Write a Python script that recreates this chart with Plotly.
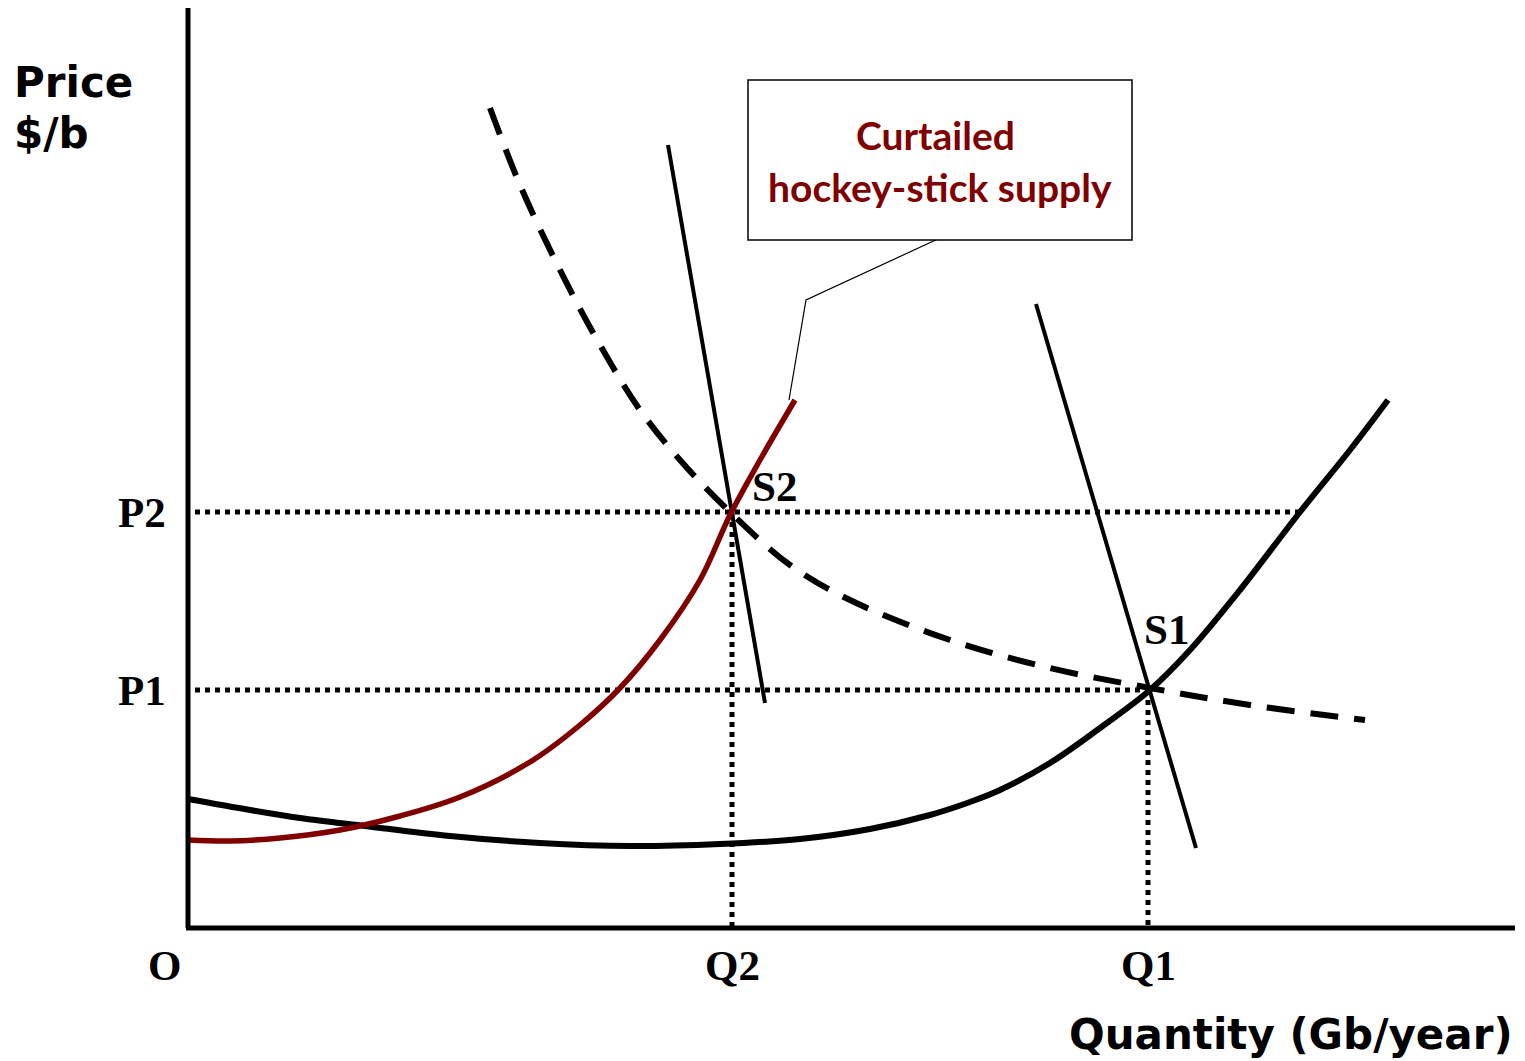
import plotly.graph_objects as go

# Diagram units: quantity on x, price on y (origin at the axes corner)
axis_top = 92.0
axis_right = 132.7

# Original (hockey-stick) supply curve
supply_q = [0, 6.2, 11.2, 17.7, 26.2, 35.2, 44.2, 53.2, 61.2, 68.2, 74.2, 78.2, 81.2,
            86.2, 91.2, 96.2, 100.2, 105.2, 111.2, 116.2, 120.0]
supply_p = [12.9, 11.8, 11.0, 10.2, 9.2, 8.5, 8.2, 8.4, 8.9, 9.9, 11.3, 12.6, 13.8,
            16.5, 20.0, 23.8, 27.8, 33.8, 41.6, 47.8, 52.8]

# Curtailed hockey-stick supply
curtailed_q = [0, 4.2, 9.2, 15.2, 21.2, 27.2, 34.2, 39.2, 43.2, 47.2, 51.2, 54.2, 57.2, 60.7]
curtailed_p = [8.8, 8.7, 9.0, 9.8, 11.2, 13.1, 16.6, 20.3, 24.0, 28.8, 34.8, 41.3, 46.8, 52.8]

# Dashed curve
dashed_q = [30.2, 33.2, 37.2, 41.2, 45.2, 49.2, 54.2, 60.2, 66.2, 76.2, 86.2, 96.2, 106.2, 117.7]
dashed_p = [82.0, 74.3, 65.8, 58.3, 51.8, 46.8, 41.6, 36.3, 32.8, 28.8, 26.0, 24.0, 22.3, 20.8]

# Steep demand lines
s2_q = [48.0, 57.7]
s2_p = [78.3, 22.5]
s1_q = [84.8, 100.8]
s1_p = [62.4, 8.0]

# Equilibria
P1, P2 = 23.8, 41.6
Q1, Q2 = 96.0, 54.4
p2_line_end = 111.7

# Callout box and leader
box_q = [56.0, 94.4]
box_p = [68.8, 84.8]
leader_q = [75.2, 61.8, 60.1]
leader_p = [69.0, 62.8, 52.8]

BLACK = "#000000"
RED = "#800000"

fig = go.Figure()

# dotted guide lines
dot = "5px,5px"
guide = dict(color=BLACK, width=5, dash=dot)
fig.add_trace(go.Scatter(x=[0.7, p2_line_end], y=[P2, P2], mode="lines", line=guide))
fig.add_trace(go.Scatter(x=[0.7, Q1], y=[P1, P1], mode="lines", line=guide))
fig.add_trace(go.Scatter(x=[Q2, Q2], y=[P2, 0], mode="lines", line=guide))
fig.add_trace(go.Scatter(x=[Q1, Q1], y=[P1, 0], mode="lines", line=guide))

# curves
fig.add_trace(go.Scatter(x=dashed_q, y=dashed_p, mode="lines", line_shape="spline",
                         line=dict(color=BLACK, width=6, dash="28px,16px")))
fig.add_trace(go.Scatter(x=s2_q, y=s2_p, mode="lines", line=dict(color=BLACK, width=4)))
fig.add_trace(go.Scatter(x=s1_q, y=s1_p, mode="lines", line=dict(color=BLACK, width=4)))
fig.add_trace(go.Scatter(x=supply_q, y=supply_p, mode="lines", line_shape="spline",
                         line=dict(color=BLACK, width=6)))
fig.add_trace(go.Scatter(x=curtailed_q, y=curtailed_p, mode="lines", line_shape="spline",
                         line=dict(color=RED, width=5.5)))

# axes
fig.add_trace(go.Scatter(x=[0, 0], y=[axis_top, 0], mode="lines",
                         line=dict(color=BLACK, width=5)))
fig.add_trace(go.Scatter(x=[-0.2, axis_right], y=[0, 0], mode="lines",
                         line=dict(color=BLACK, width=5)))

# callout
fig.add_trace(go.Scatter(x=leader_q, y=leader_p, mode="lines",
                         line=dict(color=BLACK, width=1.2)))
fig.add_shape(type="rect", x0=box_q[0], x1=box_q[1], y0=box_p[0], y1=box_p[1],
              line=dict(color=BLACK, width=1.5), fillcolor="white")

serif = dict(family="Liberation Serif", size=43, color=BLACK)
sans = dict(family="DejaVu Sans", size=42, color=BLACK)
callout = dict(family="Lato", size=39, color=RED)

notes = [
    dict(x=-17.6, y=84.6, text="<b>Price</b>", xanchor="left", font=sans),
    dict(x=-17.6, y=79.5, text="<b>$/b</b>", xanchor="left", font=sans),
    dict(x=axis_right, y=-10.6, text="<b>Quantity (Gb/year)</b>", xanchor="right", font=sans),
    dict(x=-2.0, y=P2, text="<b>P2</b>", xanchor="right", font=serif),
    dict(x=-2.0, y=P1, text="<b>P1</b>", xanchor="right", font=serif),
    dict(x=-2.4, y=-3.7, text="<b>O</b>", xanchor="center", font=serif),
    dict(x=Q2, y=-3.7, text="<b>Q2</b>", xanchor="center", font=serif),
    dict(x=Q1, y=-3.7, text="<b>Q1</b>", xanchor="center", font=serif),
    dict(x=56.2, y=44.2, text="<b>S2</b>", xanchor="left", font=serif),
    dict(x=95.4, y=29.9, text="<b>S1</b>", xanchor="left", font=serif),
    dict(x=74.7, y=79.3, text="<b>Curtailed</b>", xanchor="center", font=callout),
    dict(x=75.2, y=74.1, text="<b>hockey-stick supply</b>", xanchor="center", font=callout),
]
for n in notes:
    fig.add_annotation(showarrow=False, yanchor="middle", **n)

# the page body adds an 8px margin, so the figure is 8px smaller and the ranges shifted
fig.update_layout(
    width=1517, height=1053,
    margin=dict(l=0, r=0, t=0, b=0),
    paper_bgcolor="white", plot_bgcolor="white",
    showlegend=False,
    xaxis=dict(range=[-18.0, 133.7], visible=False, fixedrange=True),
    yaxis=dict(range=[-13.3, 92.0], visible=False, fixedrange=True),
)

fig.write_html("out.html")
